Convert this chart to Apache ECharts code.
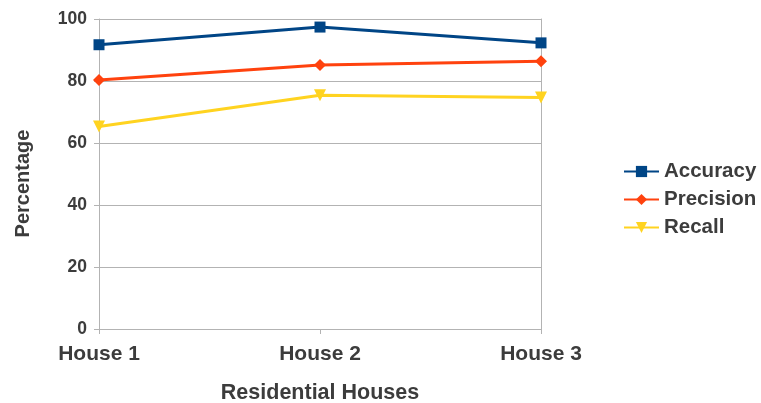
<!DOCTYPE html>
<html><head><meta charset="utf-8">
<script src="https://cdn.jsdelivr.net/npm/echarts@6/dist/echarts.min.js"></script>
<style>html,body{margin:0;padding:0;background:#fff}#c{width:761px;height:403px}</style>
</head><body><div id="c"></div>
<script>
const categories = ['House 1', 'House 2', 'House 3'];
const accuracy = [91.7, 97.4, 92.3];
const precision = [80.3, 85.2, 86.4];
const recall = [65.3, 75.4, 74.7];
const yTicks = [0, 20, 40, 60, 80, 100];

const font = 'Liberation Sans, Arial, sans-serif';
const txt = '#3c3c3c';
const grey = '#b3b3b3';
const chart = echarts.init(document.getElementById('c'));
chart.setOption({
  animation: false,
  backgroundColor: '#fff',
  grid: { left: 99, right: 220, top: 19, bottom: 74, containLabel: false, outerBoundsMode: 'none' },
  legend: {
    orient: 'vertical', left: 618, top: 156, itemGap: 7, itemWidth: 35, itemHeight: 14,
    textStyle: { fontFamily: font, fontWeight: 'bold', fontSize: 20.5, color: txt },
    data: ['Accuracy', 'Precision', 'Recall']
  },
  xAxis: {
    type: 'category', data: categories, boundaryGap: false,
    name: 'Residential Houses', nameLocation: 'middle', nameGap: 53,
    nameTextStyle: { fontFamily: font, fontWeight: 'bold', fontSize: 21.5, color: txt },
    axisLine: { lineStyle: { color: grey, width: 1 } },
    axisTick: { show: true, length: 5, lineStyle: { color: grey } },
    axisLabel: { fontFamily: font, fontWeight: 'bold', fontSize: 21, color: txt, margin: 15 },
    splitLine: { show: false }
  },
  yAxis: [{
    type: 'value', min: yTicks[0], max: yTicks[yTicks.length-1], interval: 20,
    name: 'Percentage', nameLocation: 'middle', nameGap: 66, nameRotate: 90,
    nameTextStyle: { fontFamily: font, fontWeight: 'bold', fontSize: 20, color: txt, padding: [0, 19, 0, 0] },
    axisLine: { show: true, lineStyle: { color: grey, width: 1 } },
    axisTick: { show: true, length: 5, lineStyle: { color: grey } },
    axisLabel: { fontFamily: font, fontWeight: 'bold', fontSize: 17.5, color: txt, margin: 12 },
    splitLine: { show: true, lineStyle: { color: grey, width: 1 } }
  }, {
    type: 'value', position: 'right', min: yTicks[0], max: yTicks[yTicks.length-1], interval: 20,
    axisLine: { show: true, lineStyle: { color: grey, width: 1 } },
    axisTick: { show: false }, axisLabel: { show: false }, splitLine: { show: false }
  }],
  series: [
    { name: 'Accuracy', type: 'line', data: accuracy, symbol: 'rect', symbolSize: 11,
      lineStyle: { color: '#004586', width: 3 }, itemStyle: { color: '#004586' } },
    { name: 'Precision', type: 'line', data: precision, symbol: 'diamond', symbolSize: 12,
      lineStyle: { color: '#ff420e', width: 3 }, itemStyle: { color: '#ff420e' } },
    { name: 'Recall', type: 'line', data: recall, symbol: 'triangle', symbolRotate: 180, symbolSize: 12,
      lineStyle: { color: '#ffd320', width: 3 }, itemStyle: { color: '#ffd320' } }
  ]
});
</script></body></html>
